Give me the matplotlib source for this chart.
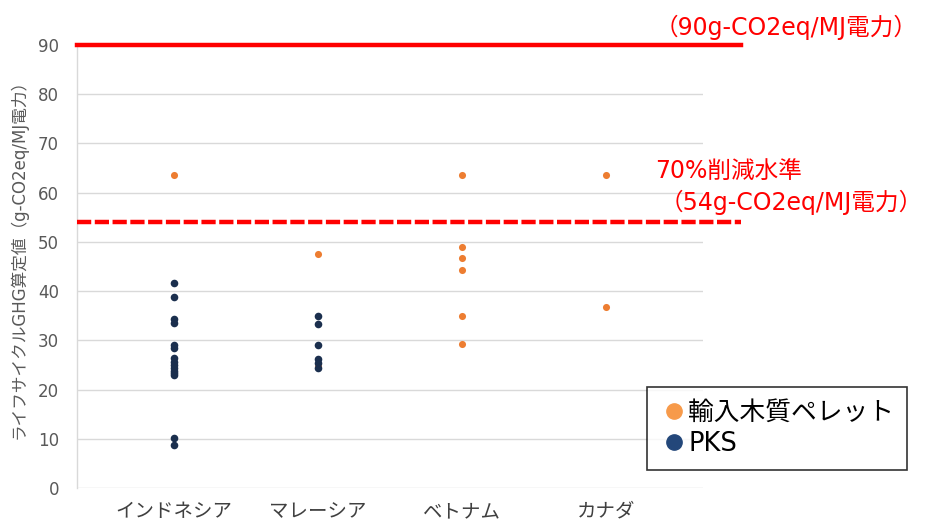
import matplotlib
matplotlib.use("Agg")
import matplotlib.pyplot as plt
from matplotlib.lines import Line2D

plt.rcParams['font.family'] = ['DejaVu Sans', 'Noto Sans CJK JP']

# Countries on the category axis
countries = ["インドネシア", "マレーシア", "ベトナム", "カナダ"]

# Imported wood pellets (country index, value)
pellet_x = [0, 1, 1, 2, 2, 2, 2, 2, 2, 3, 3]
pellet_y = [63.5, 47.5, 24.8, 63.5, 49.0, 46.7, 44.2, 35.0, 29.3, 63.5, 36.7]

# PKS (palm kernel shell)
pks_x = [0] * 15 + [1] * 6
pks_y = [41.7, 38.8, 34.3, 33.5, 29.0, 28.4, 26.4, 25.6, 25.0, 24.3, 23.8, 23.3, 23.0,
         10.2, 8.8,
         35.0, 33.3, 29.0, 26.3, 25.3, 24.4]

# Reference levels
baseline = 90
reduction_level = 54

yticks = [0, 10, 20, 30, 40, 50, 60, 70, 80, 90]

orange = "#ED7D31"
navy = "#1B2F4E"
red = "#FF0000"

fig = plt.figure(figsize=(9.31, 5.25), dpi=100)
ax = fig.add_axes([0.0827, 0.0705, 0.6724, 0.8438])

ax.set_xlim(-0.675, 3.675)
ax.set_ylim(0, 90)
ax.set_yticks(yticks)
ax.set_xticks(range(len(countries)))
ax.set_xticklabels(countries)
ax.yaxis.grid(True, color="#D9D9D9", linewidth=1.0)
ax.set_axisbelow(True)
for side in ["top", "right", "bottom"]:
    ax.spines[side].set_visible(False)
ax.spines["left"].set_color("#D9D9D9")
ax.spines["left"].set_linewidth(1.0)
ax.tick_params(axis="both", length=0)
ax.tick_params(axis="y", labelsize=12, labelcolor="#595959", pad=13)
ax.tick_params(axis="x", labelsize=14, labelcolor="#404040", pad=10)

ax.scatter(pellet_x, pellet_y, s=26, color=orange, zorder=3, linewidths=0)
ax.scatter(pks_x, pks_y, s=30, color=navy, zorder=4, linewidths=0)

# Reference lines run past the plot area to the annotations
ax.axhline(baseline, xmin=0, xmax=1.06, color=red, linewidth=3.2, clip_on=False, zorder=5)
ax.axhline(reduction_level, xmin=0, xmax=1.06, color=red, linewidth=3.2,
           linestyle=(0, (3.2, 0.8)), clip_on=False, zorder=5)

fig.text(0.703, 0.947, "（90g-CO2eq/MJ電力）", color=red, fontsize=17, va="center", ha="left")
fig.text(0.704, 0.672, "70%削減水準", color=red, fontsize=17, va="center", ha="left")
fig.text(0.708, 0.615, "（54g-CO2eq/MJ電力）", color=red, fontsize=17, va="center", ha="left")

fig.text(0.020, 0.515, "ライフサイクルGHG算定値（g-CO2eq/MJ電力）", rotation=90,
         color="#595959", fontsize=12, va="center", ha="center")

handles = [
    Line2D([], [], marker="o", linestyle="none", markersize=11, color="#F79A4A", label="輸入木質ペレット"),
    Line2D([], [], marker="o", linestyle="none", markersize=11, color="#23477A", label="PKS"),
]
leg = fig.legend(handles=handles, loc="upper left", bbox_to_anchor=(0.695, 0.263),
                 bbox_transform=fig.transFigure, fontsize=18.5, frameon=True,
                 fancybox=False, edgecolor="#000000", handletextpad=0.0,
                 handlelength=1.1, labelspacing=0.2, borderpad=0.5,
                 borderaxespad=0)
leg.get_frame().set_linewidth(1.2)
leg.get_frame().set_boxstyle("square", pad=0)
for t in leg.get_texts():
    t.set_color("#000000")

fig.savefig("out.png", dpi=100)
